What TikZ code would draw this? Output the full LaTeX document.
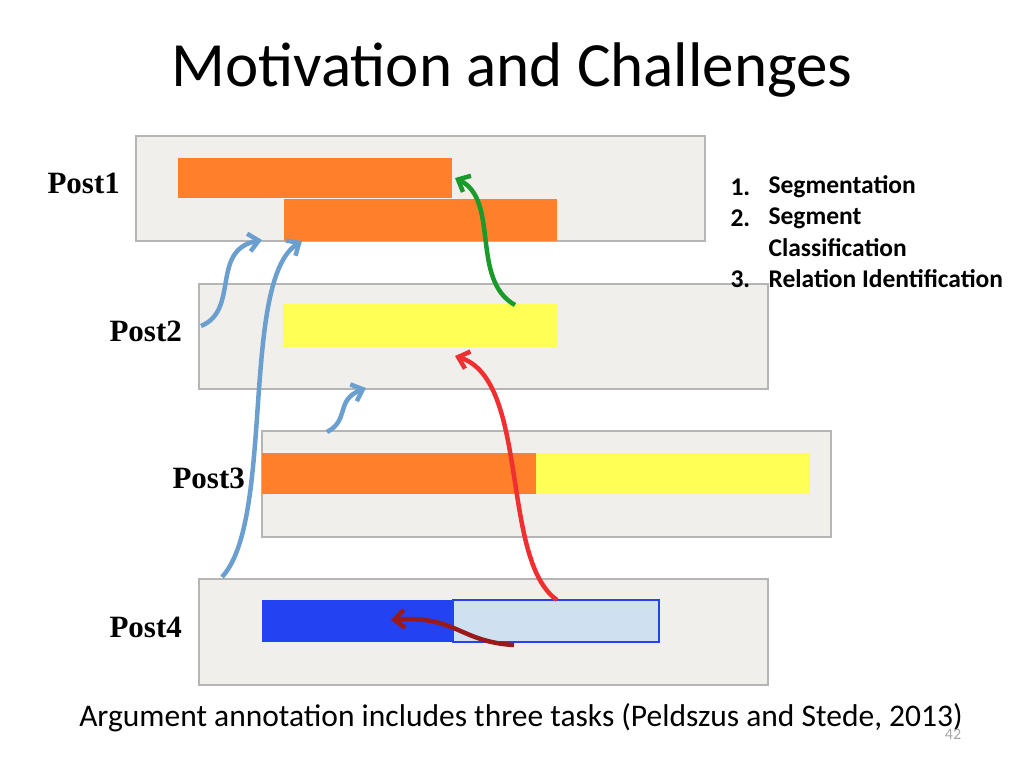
\documentclass[tikz,border=0pt]{standalone}
\usepackage{fontspec}
\setmainfont{Carlito}
\newfontfamily\serifb{Liberation Serif}
\usetikzlibrary{arrows.meta}
\definecolor{boxbg}{HTML}{F0EFEC}
\definecolor{boxln}{HTML}{B5B5B5}
\definecolor{org}{HTML}{FF7F2A}
\definecolor{yel}{HTML}{FFFF55}
\definecolor{blu}{HTML}{2343F2}
\definecolor{lblu}{HTML}{CFE0F0}
\definecolor{arblue}{HTML}{6A9FCF}
\definecolor{argreen}{HTML}{1A9A2A}
\definecolor{arred}{HTML}{F03030}
\definecolor{ardred}{HTML}{9A1A1A}
\begin{document}
\begin{tikzpicture}[x=1pt,y=-1pt,
  post/.style={draw=boxln,line width=1.5pt,fill=boxbg},
  plab/.style={font=\serifb\bfseries\fontsize{31}{36}\selectfont,anchor=west},
  conn/.style={line width=4.5pt,-{Straight Barb[length=10pt,width=18pt]}}]
\useasboundingbox[fill=white] (0,0) rectangle (1024,768);
\node (title) at (512,70) {\fontsize{63}{72}\selectfont Motivation and Challenges};
% boxes
\draw[post] (136,136) rectangle (705,241);
\draw[post] (199,284) rectangle (768,389);
\draw[post] (262,431) rectangle (831,537);
\draw[post] (199,579) rectangle (768,685);
% bars
\fill[org] (178,158) rectangle (452,198);
\fill[org] (284,199) rectangle (557,241);
\fill[yel] (283,304) rectangle (557,347);
\fill[org] (262,453) rectangle (536,494);
\fill[yel] (536,453) rectangle (810,494);
\fill[blu] (262,600) rectangle (453,642);
\draw[blu,fill=lblu,line width=1.5pt] (453,600) rectangle (659,642);
% labels
\node[plab] (p1) at (44,183) {Post1};
\node[plab] (p2) at (106,331) {Post2};
\node[plab] (p3) at (169,478) {Post3};
\node[plab] (p4) at (106,627) {Post4};
% list
\begin{scope}[every node/.style={anchor=west,font=\bfseries\fontsize{25.5}{30}\selectfont}]
\node (l1) at (727,187) {1.};
\node (t1) at (765,187) {Segmentation};
\node (l2) at (727,218) {2.};
\node (t2) at (765,218) {Segment};
\node (t2b) at (765,248) {Classification};
\node (l3) at (727,279) {3.};
\node (t3) at (765,279) {Relation Identification};
\end{scope}
% arrows
\coordinate (g0) at (515,305); \coordinate (g1) at (455,178);
\draw[conn,argreen] (g0) .. controls (470,280) and (500,200) .. (g1);
\coordinate (b10) at (201,326); \coordinate (b11) at (262,240);
\draw[conn,arblue] (b10) .. controls (240,310) and (210,250) .. (b11);
\coordinate (b20) at (222,577); \coordinate (b21) at (302,241);
\draw[conn,arblue] (b20) .. controls (275,520) and (240,280) .. (b21);
\coordinate (b30) at (327,432); \coordinate (b31) at (366,388);
\draw[conn,arblue] (b30) .. controls (350,420) and (335,400) .. (b31);
\coordinate (r0) at (557,600); \coordinate (r1) at (455,356);
\draw[conn,arred] (r0) .. controls (500,560) and (530,380) .. (r1);
\coordinate (d0) at (514,645); \coordinate (d1) at (391,620);
\draw[conn,ardred] (d0) .. controls (460,642) and (455,615) .. (d1);
\node (foot) at (521,718) {\fontsize{31.5}{36}\selectfont Argument annotation includes three tasks (Peldszus and Stede, 2013)};
\node[text=gray!70] (pg) at (953,734) {\fontsize{16}{18}\selectfont 42};
\end{tikzpicture}
\end{document}
